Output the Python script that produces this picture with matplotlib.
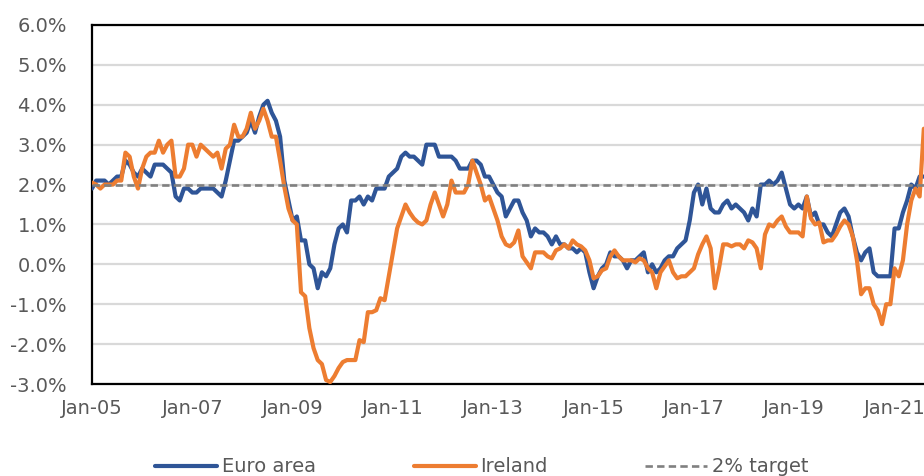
import numpy as np
import matplotlib
matplotlib.use("Agg")
import matplotlib.pyplot as plt
from matplotlib.ticker import FuncFormatter

# ---- data (annual HICP inflation, %, monthly from Jan-05) ----
euro_area = [
    1.9, 2.1, 2.1, 2.1, 2.0, 2.1, 2.2, 2.2, 2.6, 2.5, 2.3, 2.2,      # 2005
    2.4, 2.3, 2.2, 2.5, 2.5, 2.5, 2.4, 2.3, 1.7, 1.6, 1.9, 1.9,      # 2006
    1.8, 1.8, 1.9, 1.9, 1.9, 1.9, 1.8, 1.7, 2.1, 2.6, 3.1, 3.1,      # 2007
    3.2, 3.3, 3.6, 3.3, 3.7, 4.0, 4.1, 3.8, 3.6, 3.2, 2.1, 1.6,      # 2008
    1.1, 1.2, 0.6, 0.6, 0.0, -0.1, -0.6, -0.2, -0.3, -0.1, 0.5, 0.9,  # 2009
    1.0, 0.8, 1.6, 1.6, 1.7, 1.5, 1.7, 1.6, 1.9, 1.9, 1.9, 2.2,      # 2010
    2.3, 2.4, 2.7, 2.8, 2.7, 2.7, 2.6, 2.5, 3.0, 3.0, 3.0, 2.7,      # 2011
    2.7, 2.7, 2.7, 2.6, 2.4, 2.4, 2.4, 2.6, 2.6, 2.5, 2.2, 2.2,      # 2012
    2.0, 1.8, 1.7, 1.2, 1.4, 1.6, 1.6, 1.3, 1.1, 0.7, 0.9, 0.8,      # 2013
    0.8, 0.7, 0.5, 0.7, 0.5, 0.5, 0.4, 0.4, 0.3, 0.4, 0.3, -0.2,     # 2014
    -0.6, -0.3, -0.1, 0.0, 0.3, 0.2, 0.2, 0.1, -0.1, 0.1, 0.1, 0.2,  # 2015
    0.3, -0.2, 0.0, -0.2, -0.1, 0.1, 0.2, 0.2, 0.4, 0.5, 0.6, 1.1,   # 2016
    1.8, 2.0, 1.5, 1.9, 1.4, 1.3, 1.3, 1.5, 1.6, 1.4, 1.5, 1.4,      # 2017
    1.3, 1.1, 1.4, 1.2, 2.0, 2.0, 2.1, 2.0, 2.1, 2.3, 1.9, 1.5,      # 2018
    1.4, 1.5, 1.4, 1.7, 1.2, 1.3, 1.0, 1.0, 0.8, 0.7, 1.0, 1.3,      # 2019
    1.4, 1.2, 0.7, 0.3, 0.1, 0.3, 0.4, -0.2, -0.3, -0.3, -0.3, -0.3, # 2020
    0.9, 0.9, 1.3, 1.6, 2.0, 1.9, 2.2, 2.2,                          # 2021
]
ireland = [
    2.05, 2.0, 1.9, 2.0, 2.0, 2.0, 2.1, 2.1, 2.8, 2.7, 2.2, 1.9,
    2.4, 2.7, 2.8, 2.8, 3.1, 2.8, 3.0, 3.1, 2.2, 2.2, 2.4, 3.0,
    3.0, 2.7, 3.0, 2.9, 2.8, 2.7, 2.8, 2.4, 2.9, 3.0, 3.5, 3.2,
    3.2, 3.4, 3.8, 3.4, 3.6, 3.9, 3.6, 3.2, 3.2, 2.6, 1.95, 1.4,
    1.1, 1.0, -0.7, -0.8, -1.6, -2.1, -2.4, -2.5, -2.9, -2.95, -2.8, -2.6,
    -2.45, -2.4, -2.4, -2.4, -1.9, -1.95, -1.2, -1.2, -1.15, -0.85, -0.9, -0.3,
    0.3, 0.9, 1.2, 1.5, 1.3, 1.15, 1.05, 1.0, 1.1, 1.5, 1.8, 1.5,
    1.2, 1.5, 2.1, 1.8, 1.8, 1.8, 2.0, 2.6, 2.3, 2.0, 1.6, 1.7,
    1.4, 1.1, 0.7, 0.5, 0.45, 0.55, 0.85, 0.2, 0.05, -0.1, 0.3, 0.3,
    0.3, 0.2, 0.15, 0.35, 0.4, 0.5, 0.4, 0.6, 0.5, 0.45, 0.35, 0.1,
    -0.35, -0.3, -0.15, -0.1, 0.2, 0.35, 0.2, 0.1, 0.1, 0.1, 0.05, 0.15,
    0.1, -0.1, -0.2, -0.6, -0.2, -0.05, 0.1, -0.2, -0.35, -0.3, -0.3, -0.2,
    -0.1, 0.25, 0.5, 0.7, 0.4, -0.6, -0.1, 0.5, 0.5, 0.45, 0.5, 0.5,
    0.4, 0.6, 0.55, 0.4, -0.1, 0.75, 1.0, 0.95, 1.1, 1.2, 0.95, 0.8,
    0.8, 0.8, 0.7, 1.7, 1.15, 1.0, 1.05, 0.55, 0.6, 0.6, 0.75, 0.95,
    1.1, 1.0, 0.7, 0.1, -0.75, -0.6, -0.6, -1.0, -1.15, -1.5, -1.0, -1.0,
    -0.1, -0.3, 0.1, 1.0, 1.6, 1.9, 1.7, 3.4,
]
target = 2.0
tick_labels = ["Jan-05", "Jan-07", "Jan-09", "Jan-11", "Jan-13",
               "Jan-15", "Jan-17", "Jan-19", "Jan-21"]
series_names = ["Euro area", "Ireland", "2% target"]

months = np.arange(len(euro_area))
tick_pos = np.arange(len(tick_labels)) * 24

# ---- style ----
plt.rcParams["font.family"] = ["DejaVu Sans"]
TXT = "#595959"
BLUE = "#2F5597"
ORANGE = "#ED7D31"

W, H = 924, 476
fig = plt.figure(figsize=(W / 100, H / 100), dpi=100)

left_px, top_px, bottom_px = 92, 25, 384
px_per_month = 4.18
xmin, xmax = 0, 202
right_px = left_px + (xmax - xmin) * px_per_month
ax = fig.add_axes([left_px / W, (H - bottom_px) / H,
                   (right_px - left_px) / W, (bottom_px - top_px) / H])

ax.plot(months, euro_area, color=BLUE, lw=3.0, solid_joinstyle="round",
        solid_capstyle="round", label=series_names[0], zorder=3)
ax.plot(months, ireland, color=ORANGE, lw=3.0, solid_joinstyle="round",
        solid_capstyle="round", label=series_names[1], zorder=4)
ax.plot([xmin, xmax], [target, target], color="#808080", lw=1.9,
        dashes=(2.8, 1.6), label=series_names[2], zorder=5)

ax.set_xlim(xmin, xmax)
ax.set_ylim(-3, 6)
ax.set_yticks(np.arange(-3, 7, 1))
ax.yaxis.set_major_formatter(FuncFormatter(lambda v, p: f"{v:.1f}%"))
ax.set_xticks(tick_pos)
ax.set_xticklabels(tick_labels)

ax.yaxis.grid(True, color="#d9d9d9", lw=1.6, zorder=0)
ax.set_axisbelow(True)
ax.tick_params(axis="both", length=0, labelsize=14, colors=TXT)
ax.tick_params(axis="y", pad=18)
ax.tick_params(axis="x", pad=11)
for s in ["left", "top", "bottom"]:
    ax.spines[s].set_color("black")
    ax.spines[s].set_linewidth(1.6)
ax.spines["right"].set_visible(False)

leg = fig.legend(loc="center", bbox_to_anchor=(482 / W, (H - 467) / H),
                 ncol=3, frameon=False, fontsize=14, handlelength=3.2,
                 handletextpad=0.25, columnspacing=5.0, borderpad=0)
for t in leg.get_texts():
    t.set_color(TXT)

fig.savefig("out.png", dpi=100)
